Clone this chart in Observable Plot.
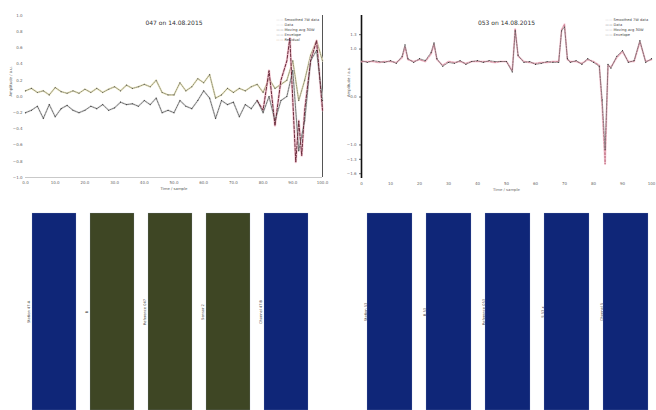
<!DOCTYPE html>
<html><head><meta charset="utf-8">
<script src="https://cdn.jsdelivr.net/npm/d3@7"></script>
<script src="https://cdn.jsdelivr.net/npm/@observablehq/plot@0.6"></script>
<style>
html,body{margin:0;padding:0;background:#fff;width:656px;height:410px;overflow:hidden;}
#root{position:relative;width:656px;height:410px;font-family:"DejaVu Sans",sans-serif;overflow:hidden;}
.p{position:absolute;}
</style></head><body><div id="root"></div>
<script>
// ---------- data ----------
const leftTitle = "047 on 14.08.2015";
const rightTitle = "053 on 14.08.2015";
const xLabel = "Time / sample";
const yLabel = "Amplitude / a.u.";
const xTicks = [0,10,20,30,40,50,60,70,80,90,100];
const yTicksLeft = [-1,-0.8,-0.6,-0.4,-0.2,0,0.2,0.4,0.6,0.8,1];
const yTicksRight = [-1.6,-1.3,-1,0,1,1.3];
const legendLeft = ["Smoothed 7W data","Data","Moving avg 30W","Envelope","Residual"];
const legendRight = ["Smoothed 7W data","Data","Moving avg 30W","Envelope"];

const leftX = [0,2,4,6,8,10,12,14,16,18,20,22,24,26,28,30,32,34,36,38,40,42,44,46,48,50,52,54,56,58,60,62,64,66,68,70,72,74,76,78,80,82,84,86,88,90,92,94,96,98,100];
const leftUpper = [0.07,0.10,0.05,0.07,0.02,0.11,0.06,0.04,0.07,0.04,0.09,0.05,0.10,0.05,0.09,0.12,0.07,0.14,0.10,0.12,0.15,0.12,0.20,0.05,0.02,0.02,0.17,0.07,0.12,0.22,0.17,0.27,-0.02,0.02,0.10,0.05,0.10,0.07,0.12,0.15,0.05,0.22,0.10,0.15,0.20,0.44,-0.05,0.20,0.51,0.69,0.44];
const leftLower = [-0.20,-0.17,-0.12,-0.27,-0.10,-0.25,-0.15,-0.11,-0.17,-0.20,-0.17,-0.12,-0.15,-0.10,-0.17,-0.14,-0.07,-0.10,-0.09,-0.12,-0.05,-0.10,-0.02,-0.20,-0.17,-0.20,-0.05,-0.12,-0.15,-0.05,0.07,-0.02,-0.27,-0.05,-0.10,-0.07,-0.25,-0.10,-0.15,-0.05,-0.20,0.00,-0.30,-0.05,0.00,0.32,-0.67,-0.30,0.44,0.57,-0.05];
const leftRedX = [78,80,82,84,86,88,89,90,91,92,93,94,96,98,100];
const leftRed = [-0.05,-0.17,0.32,-0.36,0.20,0.44,0.72,-0.05,-0.81,-0.30,-0.73,-0.17,0.44,0.69,-0.17];

const rightX = [0,2,4,6,8,10,12,14,15,16,18,20,22,24,25,26,28,30,32,34,36,38,40,42,44,46,48,50,52,53,54,56,58,60,62,64,66,68,69,70,71,72,74,76,78,80,82,83,84,85,86,88,90,92,94,96,98,100];
const rightBlack = [0.76,0.72,0.76,0.74,0.72,0.76,0.70,0.85,1.09,0.80,0.72,0.80,0.76,0.93,1.13,0.80,0.64,0.72,0.70,0.76,0.68,0.74,0.76,0.72,0.76,0.74,0.74,0.74,0.52,1.38,0.87,0.72,0.74,0.68,0.70,0.74,0.72,0.72,1.38,1.46,0.80,0.72,0.76,0.68,0.80,0.72,0.64,-0.06,-1.09,0.68,0.60,0.85,0.97,0.72,0.76,1.18,0.72,0.80];
const rightRed = [0.74,0.74,0.74,0.72,0.74,0.74,0.72,0.82,1.05,0.78,0.74,0.78,0.74,0.90,1.10,0.78,0.66,0.74,0.72,0.74,0.70,0.74,0.74,0.74,0.74,0.72,0.74,0.74,0.55,1.42,0.85,0.74,0.72,0.70,0.72,0.72,0.74,0.74,1.40,1.52,0.78,0.74,0.74,0.70,0.78,0.74,0.66,-0.20,-1.40,0.66,0.62,0.82,0.95,0.74,0.74,1.15,0.74,0.78];

const leftBarCats = ["b1","b2","b3","b4","b5"];
const leftBarLabels = ["Station 47-A","B","Reference 047","Sensor 2","Channel 47-B"];
const leftBarColors = ["#0f2678","#3e4624","#3e4624","#3e4624","#0f2678"];
const rightBarCats = ["c1","c2","c3","c4","c5"];
const rightBarLabels = ["Station 53","B 53","Reference 053","S 53 x","Channel 5"];
const rightBarColors = ["#0f2678","#0f2678","#0f2678","#0f2678","#0f2678"];

// ---------- helpers ----------
const root = document.getElementById("root");
function place(el, left, top){ el.classList.add("p"); el.style.left = left+"px"; el.style.top = top+"px"; root.appendChild(el); }
const pts = (xs, ys) => xs.map((x,i)=>({x, y: ys[i]}));
const font = "DejaVu Sans";

function legendMarks(labels, colors){
  const m = [];
  labels.forEach((l,i)=>{
    m.push(Plot.text([l], {frameAnchor:"top-right", dx:-38, dy:3+i*5, text:d=>d, textAnchor:"start", fontSize:3.6, fill:"#444"}));
    m.push(Plot.text([l], {frameAnchor:"top-right", dx:-39, dy:3+i*5, text:()=>"——", textAnchor:"end", fontSize:3.6, fill:colors[i]}));
  });
  return m;
}

// ---------- left line chart ----------
const L = Plot.plot({
  width:330, height:200, marginLeft:25, marginRight:8, marginTop:15, marginBottom:23,
  style:{fontSize:"4px", fontFamily:font, background:"transparent", color:"#666"},
  x:{domain:[0,100], ticks:xTicks, tickSize:0, tickPadding:4, label:null, tickFormat:d3.format(".1f")},
  y:{domain:[-1,1], ticks:yTicksLeft, tickSize:0, tickPadding:3, label:null, tickFormat:d3.format(".1f")},
  marks:[
    Plot.ruleY([-1], {stroke:"#bbb", strokeWidth:0.8}),
    Plot.ruleX([100], {stroke:"#555", strokeWidth:1}),
    Plot.line(pts(leftX,leftUpper), {x:"x", y:"y", stroke:"#f3efcf", strokeWidth:2}),
    Plot.line(pts(leftX,leftUpper), {x:"x", y:"y", stroke:"#707058", strokeWidth:0.7, strokeDasharray:"1.5,1"}),
    Plot.dot(pts(leftX,leftUpper), {x:"x", y:"y", r:0.55, fill:"#555"}),
    Plot.line(pts(leftRedX,leftRed), {x:"x", y:"y", stroke:"#f2b6c6", strokeWidth:2.4, strokeOpacity:0.7}),
    Plot.line(pts(leftX,leftLower), {x:"x", y:"y", stroke:"#e8e8e8", strokeWidth:2}),
    Plot.line(pts(leftX,leftLower), {x:"x", y:"y", stroke:"#444", strokeWidth:0.7, strokeDasharray:"2,1"}),
    Plot.dot(pts(leftX,leftLower), {x:"x", y:"y", r:0.55, fill:"#333"}),
    Plot.line(pts(leftRedX,leftRed), {x:"x", y:"y", stroke:"#6a2a3a", strokeWidth:1, strokeDasharray:"3,1.5"}),
    Plot.text([leftTitle], {frameAnchor:"top", dy:5, text:d=>d, fontSize:6, fill:"#333"}),
    Plot.text([xLabel], {frameAnchor:"bottom", dy:12, text:d=>d, fontSize:3.8, fill:"#555"}),
    Plot.text([yLabel], {frameAnchor:"left", dx:-15, text:d=>d, rotate:-90, fontSize:3.8, fill:"#555"}),
    ...legendMarks(legendLeft, ["#bbb","#ccc","#333","#555","#bfa060"])
  ]
});
place(L, 0, 0);

// ---------- right line chart ----------
const R = Plot.plot({
  width:330, height:200, marginLeft:31, marginRight:9, marginTop:15, marginBottom:22,
  style:{fontSize:"4px", fontFamily:font, background:"transparent", color:"#666"},
  x:{domain:[0,100], ticks:xTicks, tickSize:0, tickPadding:4, label:null, tickFormat:d3.format("d")},
  y:{domain:[-1.7,1.7], ticks:yTicksRight, tickSize:2, tickPadding:3, label:null, tickFormat:d3.format(".1f")},
  marks:[
    Plot.ruleX([0], {stroke:"#111", strokeWidth:1.6}),
    Plot.line(pts(rightX,rightRed), {x:"x", y:"y", stroke:"#f6cad6", strokeWidth:2, strokeOpacity:0.8}),
    Plot.line(pts(rightX,rightRed), {x:"x", y:"y", stroke:"#b05068", strokeWidth:0.6, strokeDasharray:"2,1.5"}),
    Plot.line(pts(rightX,rightBlack), {x:"x", y:"y", stroke:"#555", strokeWidth:0.6, strokeDasharray:"1.5,1"}),
    Plot.dot(pts(rightX,rightBlack), {x:"x", y:"y", r:0.55, fill:"#333"}),
    Plot.text([rightTitle], {frameAnchor:"top", dy:5, text:d=>d, fontSize:6, fill:"#333"}),
    Plot.text([xLabel], {frameAnchor:"bottom", dy:12, text:d=>d, fontSize:3.8, fill:"#666"}),
    Plot.text([yLabel], {frameAnchor:"left", dx:-13, text:d=>d, rotate:-90, fontSize:3.8, fill:"#555"}),
    ...legendMarks(legendRight, ["#bbb","#111","#888","#666"])
  ]
});
place(R, 330, 0);

// ---------- bar panels ----------
function barPanel(cats, labels, colors, range, dx){
  const data = cats.map((c,i)=>({cat:c, v:1, label:labels[i], color:colors[i]}));
  return Plot.plot({
    width:330, height:210, marginTop:13, marginBottom:0, marginLeft:0, marginRight:0,
    style:{fontFamily:font, background:"transparent"},
    x:{type:"band", domain:cats, range, paddingInner:0.237, paddingOuter:0, axis:null},
    y:{domain:[0,1], axis:null},
    color:{type:"identity"},
    marks:[
      Plot.barY(data, {x:"cat", y:"v", fill:"color", stroke:"#9fb0d0", strokeWidth:0.4, strokeOpacity:0.5}),
      Plot.text(data, {x:"cat", frameAnchor:"middle", text:"label", rotate:-90, dx, fontSize:3.6, fill:"#444"})
    ]
  });
}
place(barPanel(leftBarCats, leftBarLabels, leftBarColors, [30,311], -25.5), 0, 200);
place(barPanel(rightBarCats, rightBarLabels, rightBarColors, [37,319], -24.5), 330, 200);
</script></body></html>
